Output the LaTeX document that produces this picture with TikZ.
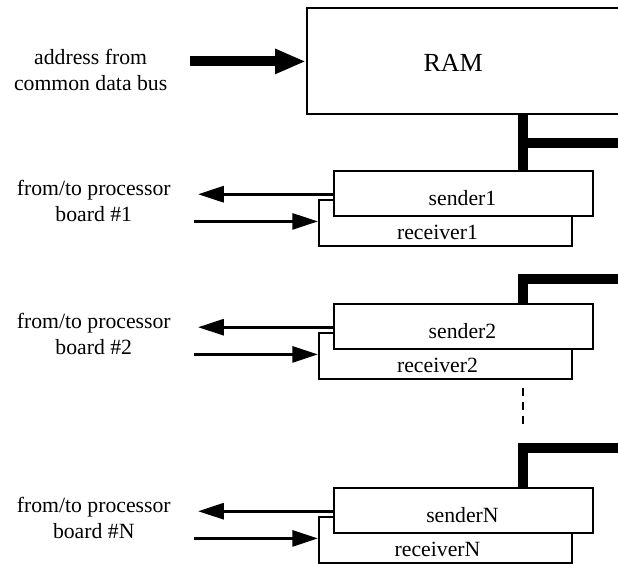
\documentclass[tikz,border=0pt]{standalone}
\usepackage{fontspec}
\setmainfont{Liberation Serif}
\usetikzlibrary{arrows.meta,calc}

\tikzset{
  unit/.style={draw,line width=1.1pt,fill=white,inner sep=0pt,anchor=north west},
  bus/.style={line width=5.6pt},
  link/.style={line width=1.65pt,-{Triangle[length=5mm,width=3.1mm]}},
}

\begin{document}
\begin{tikzpicture}[font=\fontsize{12}{14}\selectfont]
  \useasboundingbox (0,0) rectangle (12,10.95);
  \clip (0,0) rectangle (12,10.95);

  % memory and its address input
  \node[unit,minimum width=7.3cm,minimum height=2.06cm] (ram) at (5.94,10.815) {};
  \node[font=\fontsize{14.4}{17}\selectfont] (ramlabel) at (8.8,9.73) {RAM};
  \node[align=center] (addr) at (1.76,9.59) {address from\\common data bus};
  \coordinate (addrin) at (3.69,9.757);
  \draw[bus,-{Triangle[length=6mm,width=4.5mm]}] (addrin) -- (addrin -| ram.west);

  % one sender/receiver pair per processor board
  \foreach \i/\dy in {1/0, 2/2.582, N/6.155} {
    \begin{scope}[yshift=-\dy cm]
      \node[unit,minimum width=4.912cm,minimum height=0.893cm] (rcv\i) at (6.175,7.087) {};
      \node[unit,minimum width=5.029cm,minimum height=0.874cm] (snd\i) at (6.466,7.650) {};
      \node (sndlabel\i) at (8.98,7.11) {sender\i};
      \node (rcvlabel\i) at (8.495,6.43) {receiver\i};
      \node[align=center] (board\i) at (1.82,7.05) {from/to processor\\board \#\i};
      \coordinate (out\i) at (3.845,7.178);
      \coordinate (in\i) at (3.767,6.65);
      \draw[link] (snd\i.west |- out\i) -- (out\i);
      \draw[link] (in\i) -- (in\i -| rcv\i.west);
    \end{scope}
  }

  % data bus
  \coordinate (bus1) at (10.155,8.175);
  \coordinate (bus2) at (10.155,5.524);
  \coordinate (busN) at (10.155,2.252);
  \draw[bus] (ram.south -| bus1) -- (snd1.north -| bus1);
  \draw[bus] (bus1) -- ++(3,0);
  \draw[bus] (13,5.524) -- (bus2) -- (snd2.north -| bus2);
  \draw[bus] (13,2.252) -- (busN) -- (sndN.north -| busN);

  \coordinate (gaptop) at (10.155,3.417);
  \coordinate (gapbot) at (10.155,2.66);
  \draw[line width=1.6pt,dash pattern=on 0.155cm off 0.117cm] (gaptop) -- (gapbot);
\end{tikzpicture}
\end{document}
